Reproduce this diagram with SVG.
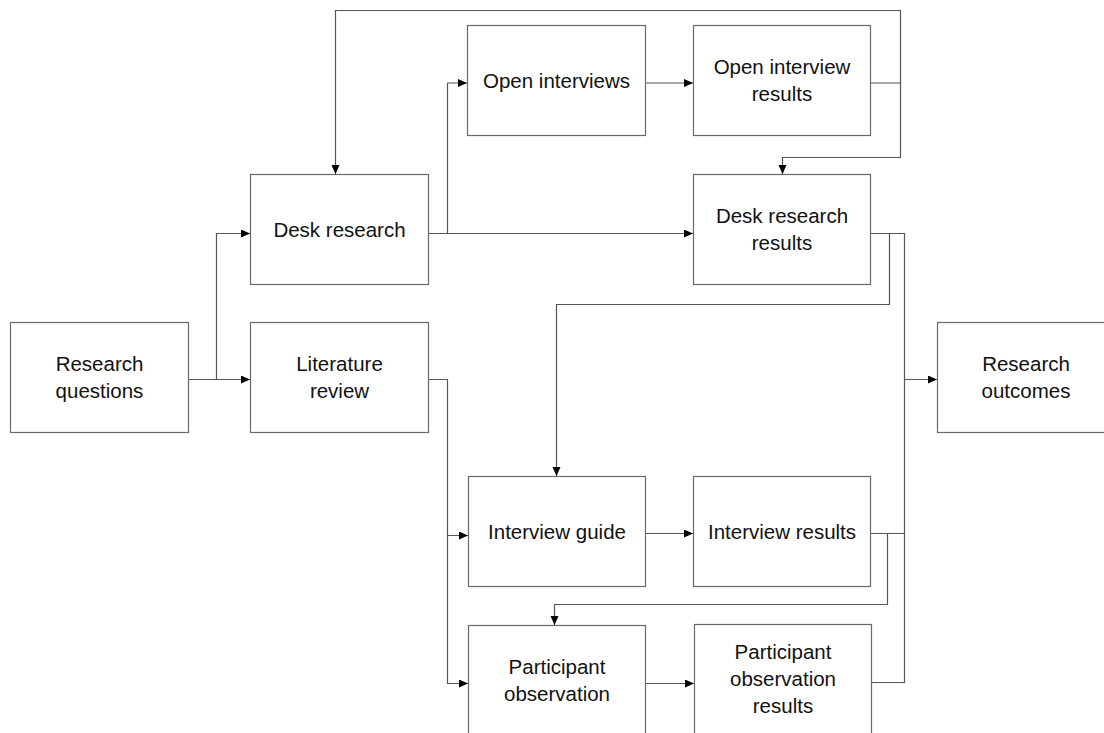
<svg xmlns="http://www.w3.org/2000/svg" width="1104" height="733" viewBox="0 0 1104 733">
<style>
.box{fill:#fff;stroke:#6a6a6a;stroke-width:1.2}
.lbl{font-family:"Liberation Sans",Arial,sans-serif;font-size:20.5px;fill:#111;text-anchor:middle}
.con{fill:none;stroke:#555;stroke-width:1.2}
</style>
<defs>
<marker id="arr" markerUnits="userSpaceOnUse" markerWidth="10" markerHeight="10" refX="9" refY="4" orient="auto">
<path d="M0,0 L9,4 L0,8 z" fill="#000"/>
</marker>
</defs>
<rect width="1104" height="733" fill="#fff"/>
<g id="connectors">
<path class="con" d="M188,379.5 H216.5 V233.5 H250" marker-end="url(#arr)"/>
<path class="con" d="M188,379.5 H250" marker-end="url(#arr)"/>
<path class="con" d="M428,233.5 H447.5 V83 H467" marker-end="url(#arr)"/>
<path class="con" d="M428,233.5 H693" marker-end="url(#arr)"/>
<path class="con" d="M645.5,83 H693" marker-end="url(#arr)"/>
<path class="con" d="M871,83 H900.5 V10.5 H335.5 V174" marker-end="url(#arr)"/>
<path class="con" d="M900.5,83 V157.5 H782.5 V174" marker-end="url(#arr)"/>
<path class="con" d="M871,233.5 H889.5 V304.5 H556.5 V476" marker-end="url(#arr)"/>
<path class="con" d="M889.5,233.5 H904.5 V379.5 H937" marker-end="url(#arr)"/>
<path class="con" d="M428,379.5 H447.5 V535.5 H468" marker-end="url(#arr)"/>
<path class="con" d="M447.5,535.5 V683.5 H468" marker-end="url(#arr)"/>
<path class="con" d="M645.5,533.5 H693" marker-end="url(#arr)"/>
<path class="con" d="M871,533.5 H904.5 V379.5"/>
<path class="con" d="M887.5,533.5 V604.5 H554.5 V625" marker-end="url(#arr)"/>
<path class="con" d="M645.5,683.5 H694" marker-end="url(#arr)"/>
<path class="con" d="M872,682.5 H904.5 V533.5"/>
</g>
<g id="research-questions">
<rect class="box" x="10.5" y="322.5" width="178" height="110"/>
<text class="lbl" x="99.5" y="371">Research</text>
<text class="lbl" x="99.5" y="398">questions</text>
</g>
<g id="desk-research">
<rect class="box" x="250.5" y="174.5" width="178" height="110"/>
<text class="lbl" x="339.5" y="237">Desk research</text>
</g>
<g id="literature-review">
<rect class="box" x="250.5" y="322.5" width="178" height="110"/>
<text class="lbl" x="339.5" y="371">Literature</text>
<text class="lbl" x="339.5" y="398">review</text>
</g>
<g id="open-interviews">
<rect class="box" x="467.5" y="25.5" width="178" height="110"/>
<text class="lbl" x="556.5" y="88">Open interviews</text>
</g>
<g id="open-interview-results">
<rect class="box" x="693.5" y="25.5" width="177" height="110"/>
<text class="lbl" x="782" y="74">Open interview</text>
<text class="lbl" x="782" y="101">results</text>
</g>
<g id="desk-research-results">
<rect class="box" x="693.5" y="174.5" width="177" height="110"/>
<text class="lbl" x="782" y="223">Desk research</text>
<text class="lbl" x="782" y="250">results</text>
</g>
<g id="research-outcomes">
<rect class="box" x="937.5" y="322.5" width="178" height="110"/>
<text class="lbl" x="1026" y="371">Research</text>
<text class="lbl" x="1026" y="398">outcomes</text>
</g>
<g id="interview-guide">
<rect class="box" x="468.5" y="476.5" width="177" height="110"/>
<text class="lbl" x="557" y="539">Interview guide</text>
</g>
<g id="interview-results">
<rect class="box" x="693.5" y="476.5" width="177" height="110"/>
<text class="lbl" x="782" y="539">Interview results</text>
</g>
<g id="participant-observation">
<rect class="box" x="468.5" y="625.5" width="177" height="110"/>
<text class="lbl" x="557" y="673.5">Participant</text>
<text class="lbl" x="557" y="700.5">observation</text>
</g>
<g id="participant-observation-results">
<rect class="box" x="694.5" y="624.5" width="177" height="110"/>
<text class="lbl" x="783" y="659">Participant</text>
<text class="lbl" x="783" y="686">observation</text>
<text class="lbl" x="783" y="713">results</text>
</g>
</svg>
